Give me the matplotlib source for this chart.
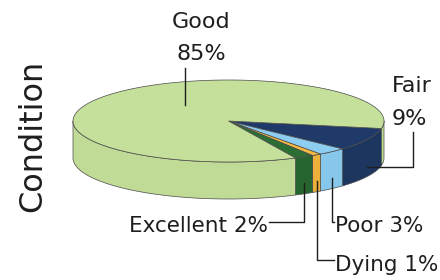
import numpy as np
import matplotlib
matplotlib.use('Agg')
import matplotlib.pyplot as plt
from matplotlib.patches import Polygon

# ── Data ──────────────────────────────────────────────────────────────────────
labels = ['Fair', 'Poor', 'Dying', 'Excellent', 'Good']
values = [9, 3, 1, 2, 85]

TOP_COLORS  = ['#1F3A68', '#8DCDF2', '#F2B843', '#2B6E33', '#C5E09B']
SIDE_COLORS = ['#1D365F', '#88C7EC', '#EAB03A', '#27652F', '#C0DB95']
EDGE = '#4A4A4A'
TEXT = '#1E1E1E'

# pie geometry in pixel space
CX, CY = 228.5, 121
RX, RY = 155.5, 41
DEPTH = 37
START = -10.5  # degrees, slices run clockwise

fig = plt.figure(figsize=(4.4, 2.8), dpi=100)
ax = fig.add_axes([0, 0, 1, 1])
ax.set_xlim(0, 440)
ax.set_ylim(280, 0)
ax.axis('off')


def pt(theta, drop=0.0):
    t = np.radians(theta)
    return CX + RX * np.cos(t), CY - RY * np.sin(t) + drop


def arc(a1, a2, drop=0.0):
    n = max(4, int(abs(a2 - a1) * 2))
    return [pt(t, drop) for t in np.linspace(a1, a2, n)]


fracs = np.array(values) / sum(values) * 360
ends = START - np.cumsum(fracs)
starts = ends + fracs

# ── Side walls (front half only) ──────────────────────────────────────────────
for a_hi, a_lo, c in zip(starts, ends, SIDE_COLORS):
    for shift in (0, 360):
        h = min(a_hi + shift, 0)
        l = max(a_lo + shift, -180)
        if h > l:
            poly = arc(h, l) + arc(l, h, drop=DEPTH)
            ax.add_patch(Polygon(poly, closed=True, facecolor=c,
                                 edgecolor=EDGE, lw=0.5, zorder=2))

# ── Top faces ─────────────────────────────────────────────────────────────────
for a_hi, a_lo, c in zip(starts, ends, TOP_COLORS):
    poly = [(CX, CY)] + arc(a_hi, a_lo)
    ax.add_patch(Polygon(poly, closed=True, facecolor=c,
                         edgecolor=EDGE, lw=0.5, zorder=3))

# ── Labels & leader lines ─────────────────────────────────────────────────────
fs = 16
fs_small = 15.5
mids = (starts + ends) / 2
line_kw = dict(color=TEXT, lw=1.0, zorder=4)

# Good
ax.text(201, 28, labels[4], ha='center', va='baseline', fontsize=fs, color=TEXT)
ax.text(201, 60, f'{values[4]}%', ha='center', va='baseline', fontsize=fs, color=TEXT)
ax.plot([185, 185], [68, 105], **line_kw)

# Fair
fx, fy = pt(mids[0], DEPTH * 0.75)
ax.plot([fx, 413, 413], [fy, fy, 132], **line_kw)
ax.text(392, 92, labels[0], ha='left', va='baseline', fontsize=fs, color=TEXT)
ax.text(392, 125, f'{values[0]}%', ha='left', va='baseline', fontsize=fs, color=TEXT)

# Poor
px, py = pt(mids[1], DEPTH * 0.7)
ax.plot([px, px, 334], [py, 222, 222], **line_kw)
ax.text(335, 232, f'{labels[1]} {values[1]}%', ha='left', va='baseline',
        fontsize=fs_small, color=TEXT)

# Dying
dx, dy = pt(mids[2], DEPTH * 0.7)
ax.plot([dx, dx, 334], [dy, 260, 260], **line_kw)
ax.text(335, 271, f'{labels[2]} {values[2]}%', ha='left', va='baseline',
        fontsize=fs_small, color=TEXT)

# Excellent
ex, ey = pt(mids[3], DEPTH * 0.7)
ax.plot([ex, ex, 269], [ey, 222, 222], **line_kw)
ax.text(268, 232, f'{labels[3]} {values[3]}%', ha='right', va='baseline',
        fontsize=fs_small, color=TEXT)

# axis title
ax.text(33, 136, 'Condition', rotation=90, ha='center', va='center',
        fontsize=23, color=TEXT)

fig.savefig('out.png', dpi=100, facecolor='white')
